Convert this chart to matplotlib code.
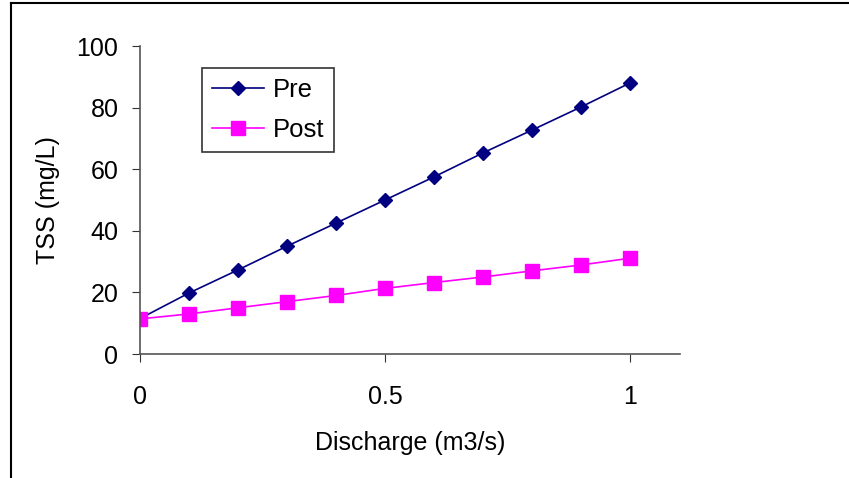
import matplotlib
matplotlib.use("Agg")
import matplotlib.pyplot as plt
from matplotlib.lines import Line2D

plt.rcParams['font.family'] = ['Liberation Sans', 'DejaVu Sans']

discharge = [0, 0.1, 0.2, 0.3, 0.4, 0.5, 0.6, 0.7, 0.8, 0.9, 1.0]
pre = [11.5, 19.8, 27.3, 35.0, 42.5, 50.0, 57.5, 65.3, 72.7, 80.2, 88.0]
post = [11.4, 13.0, 15.0, 17.0, 19.0, 21.3, 23.2, 25.0, 27.0, 28.9, 31.1]

fig = plt.figure(figsize=(8.49, 4.78), dpi=100)
ax = fig.add_axes([140/849, 1-354/478, 540/849, 308/478])

ax.plot(discharge, pre, color='#000080', marker='D', markersize=7.5, lw=1.2, label='Pre')
ax.plot(discharge, post, color='#FF00FF', marker='s', markersize=9.5, lw=1.2, label='Post')

ax.set_xlim(0, 1.102)
ax.set_ylim(0, 100)
ax.set_xticks([0, 0.5, 1])
ax.set_xticklabels(['0', '0.5', '1'])
ax.set_yticks([0, 20, 40, 60, 80, 100])

for s in ['top', 'right']:
    ax.spines[s].set_visible(False)
for s in ['left', 'bottom']:
    ax.spines[s].set_color('#555555')
    ax.spines[s].set_linewidth(1.2)

ax.tick_params(axis='both', direction='out', length=5.5, color='#333333', labelsize=18)
ax.tick_params(axis='x', pad=17)
ax.tick_params(axis='y', pad=10)

ax.set_xlabel('Discharge (m3/s)', fontsize=18, labelpad=16)
ax.set_ylabel('TSS (mg/L)', fontsize=18, labelpad=12)

leg = ax.legend(loc='upper left', bbox_to_anchor=(202/849, 1-68/478),
                bbox_transform=fig.transFigure, fontsize=18.5, frameon=True,
                fancybox=False, borderaxespad=0, handlelength=2,
                handletextpad=0.35, borderpad=0.4, labelspacing=0.6)
leg.get_frame().set_edgecolor('black')
leg.get_frame().set_linewidth(1.2)

# outer frame of the chart area
fig.add_artist(Line2D([11/849, 11/849], [0, 1-3/478], transform=fig.transFigure, color='black', lw=1.5))
fig.add_artist(Line2D([11/849, 1], [1-3/478, 1-3/478], transform=fig.transFigure, color='black', lw=1.5))

fig.savefig('out.png', dpi=100)
